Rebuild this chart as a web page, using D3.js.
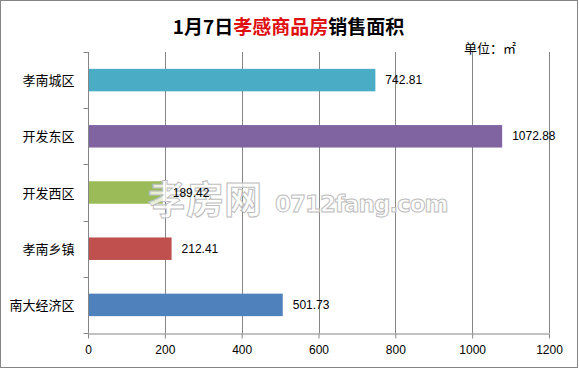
<!DOCTYPE html>
<html>
<head>
<meta charset="UTF-8">
<script src="https://d3js.org/d3.v7.min.js"></script>
<style>
  body { margin: 0; background: #fff; }
  svg text { font-family: "Noto Sans CJK SC", "Liberation Sans", sans-serif; }
</style>
</head>
<body>
<div id="chart"></div>
<script>
const categories = ['孝南城区', '开发东区', '开发西区', '孝南乡镇', '南大经济区'];
const values = [742.81, 1072.88, 189.42, 212.41, 501.73];
const colors = ['#4BACC6', '#8064A2', '#9BBB59', '#C0504D', '#4F81BD'];
const xTicks = [0, 200, 400, 600, 800, 1000, 1200];

const width = 579, height = 369;
const margin = { top: 52, right: 30, bottom: 36, left: 88 };

const svg = d3.select('#chart').append('svg')
  .attr('width', width)
  .attr('height', height);

svg.append('rect')
  .attr('x', 0.5).attr('y', 0.5)
  .attr('width', width - 2).attr('height', height - 2)
  .attr('fill', '#fff')
  .attr('stroke', '#868686');

const x = d3.scaleLinear().domain([0, 1200]).range([margin.left, width - margin.right]);
const y = d3.scaleBand().domain(categories).range([margin.top, height - margin.bottom]).paddingInner(0.6).paddingOuter(0.3);
const band = d3.scaleBand().domain(categories).range([margin.top, height - margin.bottom]);

// gridlines
svg.append('g').selectAll('line')
  .data(xTicks.slice(1))
  .join('line')
  .attr('x1', d => Math.round(x(d)) + 0.5).attr('x2', d => Math.round(x(d)) + 0.5)
  .attr('y1', margin.top).attr('y2', height - margin.bottom)
  .attr('stroke', '#868686');

// bars
svg.append('g').selectAll('rect')
  .data(categories)
  .join('rect')
  .attr('x', x(0) + 1)
  .attr('y', d => y(d))
  .attr('width', (d, i) => x(values[i]) - x(0) + 1)
  .attr('height', y.bandwidth())
  .attr('fill', (d, i) => colors[i]);

// watermark (outlined)
const wm = svg.append('g')
  .attr('fill', '#fff')
  .attr('fill-opacity', 0.75)
  .attr('stroke', '#bdbdbd')
  .attr('stroke-width', 1)
  .attr('font-weight', 'bold');
wm.append('text')
  .attr('x', 148).attr('y', 213)
  .attr('font-size', 38)
  .style('font-family', '"Noto Sans CJK SC", sans-serif')
  .text('孝房网');
wm.append('text')
  .attr('x', 275).attr('y', 212)
  .attr('font-size', 23)
  .style('font-family', '"DejaVu Sans", sans-serif')
  .attr('letter-spacing', -1)
  .text('0712fang.com');

// value labels
svg.append('g').selectAll('text')
  .data(categories)
  .join('text')
  .attr('x', (d, i) => x(values[i]) + 12)
  .attr('y', d => y(d) + y.bandwidth() / 2 + 4)
  .attr('font-size', 12)
  .attr('fill', '#000')
  .style('font-family', '"Liberation Sans", sans-serif')
  .text((d, i) => values[i].toFixed(2));

// x axis
const xAxis = svg.append('g')
  .attr('transform', `translate(0,${height - margin.bottom + 0.5})`)
  .call(d3.axisBottom(x).tickValues(xTicks).tickFormat(d3.format('d')).tickSize(5).tickSizeOuter(0));
xAxis.select('.domain').attr('stroke', '#868686');
xAxis.selectAll('.tick line').attr('stroke', '#868686');
xAxis.selectAll('.tick text')
  .attr('font-size', 12).attr('fill', '#000').attr('dy', '1.05em')
  .style('font-family', '"Liberation Sans", sans-serif');

// y axis
const yAxisG = svg.append('g')
  .attr('transform', `translate(${margin.left + 0.5},0)`);
yAxisG.append('line')
  .attr('y1', margin.top).attr('y2', height - margin.bottom)
  .attr('stroke', '#868686');
yAxisG.selectAll('line.tk')
  .data(categories.slice(1).concat(['__end']))
  .join('line')
  .attr('class', 'tk')
  .attr('x1', -5).attr('x2', 0)
  .attr('y1', d => d === '__end' ? height - margin.bottom + 0.5 : Math.round(band(d)) + 0.5)
  .attr('y2', d => d === '__end' ? height - margin.bottom + 0.5 : Math.round(band(d)) + 0.5)
  .attr('stroke', '#868686');
yAxisG.append('line')
  .attr('x1', -5).attr('x2', 0)
  .attr('y1', margin.top + 0.5).attr('y2', margin.top + 0.5)
  .attr('stroke', '#868686');
yAxisG.selectAll('text')
  .data(categories)
  .join('text')
  .attr('x', -14)
  .attr('y', d => y(d) + y.bandwidth() / 2 + 5)
  .attr('text-anchor', 'end')
  .attr('font-size', 13)
  .attr('fill', '#000')
  .text(d => d);

// title
const title = svg.append('text')
  .attr('x', width / 2 - 1).attr('y', 34)
  .attr('text-anchor', 'middle')
  .attr('font-size', 19)
  .attr('font-weight', 'bold');
title.append('tspan').attr('fill', '#000').text('1月7日');
title.append('tspan').attr('fill', '#e01010').text('孝感商品房');
title.append('tspan').attr('fill', '#000').text('销售面积');

svg.append('text')
  .attr('x', 464).attr('y', 53)
  .attr('font-size', 13)
  .attr('fill', '#000')
  .text('单位：㎡');
</script>
</body>
</html>
